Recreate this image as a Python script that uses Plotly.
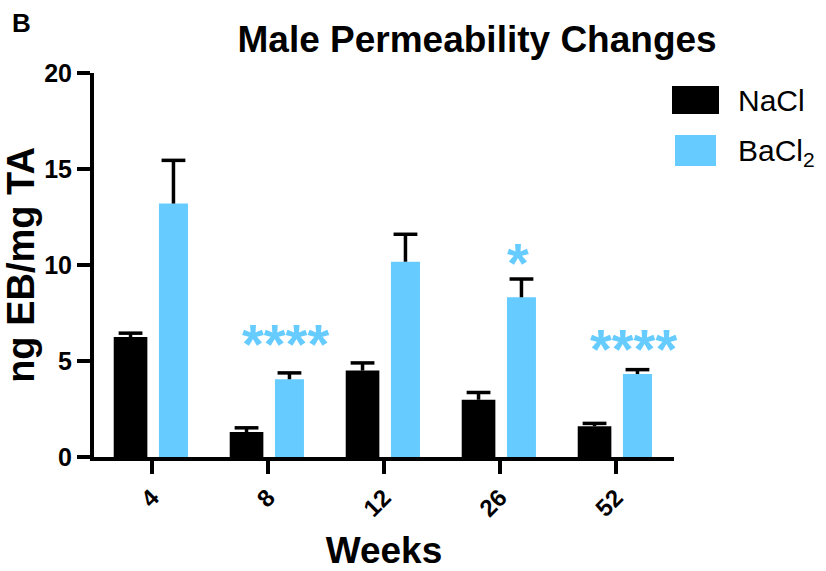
import plotly.graph_objects as go

weeks = ["4", "8", "12", "26", "52"]
nacl_mean = [6.25, 1.30, 4.50, 2.98, 1.60]
nacl_sem = [0.20, 0.22, 0.40, 0.38, 0.15]
bacl_mean = [13.20, 4.05, 10.17, 8.32, 4.32]
bacl_sem = [2.25, 0.33, 1.43, 0.95, 0.23]
sig_labels = ["", "****", "", "*", "****"]
sig_y = [0, 6.46, 0, 10.68, 6.2]

BLACK = "#000000"
BLUE = "#66CCFF"
FONT = "Liberation Sans, Arial, sans-serif"

L, R, T, B = 94, 152, 73, 114
W, H = 826, 571
pw, ph = W - L - R, H - T - B

pos = list(range(len(weeks)))
OFF_BLACK, OFF_BLUE = -0.185, 0.185
W_BLACK, W_BLUE = 0.29, 0.25


def px(x):
    return (x - L) / pw


def py(y):
    return (H - B - y) / ph


fig = go.Figure()
for means, sems, off, wid, col in [(nacl_mean, nacl_sem, OFF_BLACK, W_BLACK, BLACK),
                                   (bacl_mean, bacl_sem, OFF_BLUE, W_BLUE, BLUE)]:
    xs = [p + off for p in pos]
    fig.add_trace(go.Bar(
        x=xs, y=means, width=wid,
        marker=dict(color=col, line=dict(width=0)),
        error_y=dict(type="data", array=sems, arrayminus=[0] * len(sems), symmetric=False,
                     color=BLACK, thickness=3.5, width=0),
        showlegend=False, hoverinfo="skip",
    ))
    fig.add_trace(go.Scatter(
        x=xs, y=[m + s for m, s in zip(means, sems)], mode="markers",
        marker=dict(symbol="line-ew", size=17, color=BLACK,
                    line=dict(width=3.5, color=BLACK)),
        showlegend=False, hoverinfo="skip",
    ))

for i, lab in enumerate(sig_labels):
    if lab:
        fig.add_annotation(x=pos[i] + OFF_BLUE, y=sig_y[i], text=lab, showarrow=False,
                           xshift=-4 if len(lab) > 1 else -3,
                           yshift=-11,
                           font=dict(family=FONT, size=56, color=BLUE, weight="bold"),
                           xanchor="center", yanchor="middle")

# legend (manual, large swatches)
fig.add_shape(type="rect", xref="paper", yref="paper",
              x0=px(672), x1=px(719), y0=py(114), y1=py(86),
              fillcolor=BLACK, line=dict(width=0))
fig.add_shape(type="rect", xref="paper", yref="paper",
              x0=px(675), x1=px(716), y0=py(166), y1=py(135),
              fillcolor=BLUE, line=dict(width=0))
fig.add_annotation(xref="paper", yref="paper", x=px(736), y=py(100),
                   text="NaCl", showarrow=False, xanchor="left", yanchor="middle",
                   font=dict(family=FONT, size=30, color=BLACK))
fig.add_annotation(xref="paper", yref="paper", x=px(736), y=py(152),
                   text="BaCl<sub>2</sub>", showarrow=False, xanchor="left", yanchor="middle",
                   font=dict(family=FONT, size=30, color=BLACK))

fig.add_annotation(xref="paper", yref="paper", x=px(10), y=py(23),
                   text="<b>B</b>", showarrow=False, xanchor="left", yanchor="middle",
                   font=dict(family=FONT, size=26, color=BLACK))

fig.update_layout(
    width=W, height=H,
    margin=dict(l=L, r=R, t=T, b=B),
    paper_bgcolor="white", plot_bgcolor="white",
    barmode="overlay",
    title=dict(text="<b>Male Permeability Changes</b>", x=px(429), xanchor="center",
               y=1 - 39 / H, yanchor="middle",
               font=dict(family=FONT, size=37, color=BLACK)),
    font=dict(family=FONT, color=BLACK),
)
fig.update_xaxes(
    range=[-0.5, 4.5], tickvals=pos, ticktext=weeks, automargin=False,
    showline=True, linecolor=BLACK, linewidth=4,
    ticks="outside", ticklen=13, tickwidth=4, tickcolor=BLACK,
    tickangle=-45,
    tickfont=dict(family=FONT, size=24, color=BLACK, weight="bold"),
    title=dict(text="<b>Weeks</b>", font=dict(family=FONT, size=37, color=BLACK), standoff=20),
    showgrid=False, zeroline=False,
)
fig.update_yaxes(
    range=[0, 20], tickvals=[0, 5, 10, 15, 20], automargin=False,
    showline=True, linecolor=BLACK, linewidth=4,
    ticks="outside", ticklen=13, tickwidth=4, tickcolor=BLACK,
    tickfont=dict(family=FONT, size=25, color=BLACK, weight="bold"),
    title=dict(text="<b>ng EB/mg TA</b>", font=dict(family=FONT, size=38, color=BLACK), standoff=8),
    showgrid=False, zeroline=False,
)

fig.write_html("out.html", config={"displayModeBar": False},
               post_script="document.body.style.margin='0';")
